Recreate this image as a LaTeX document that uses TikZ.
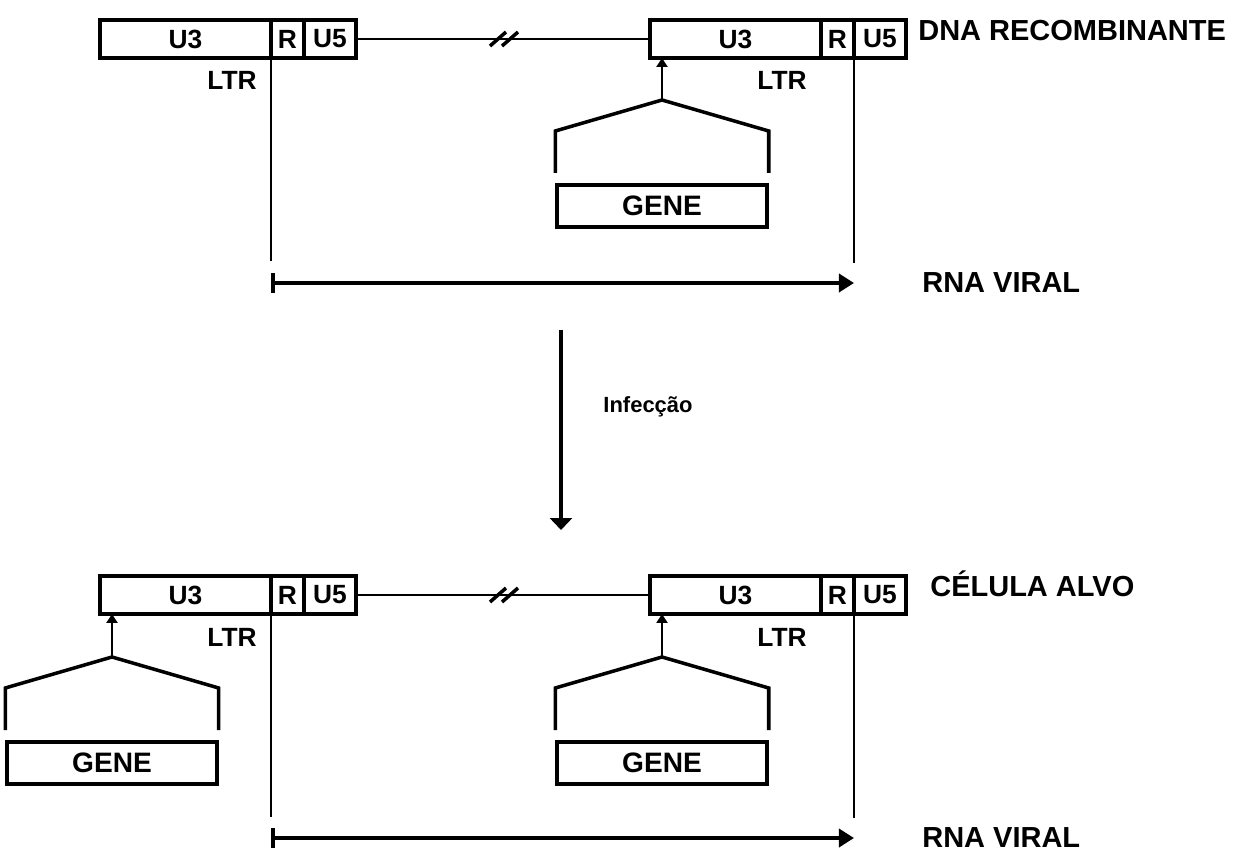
\documentclass[tikz,border=0pt]{standalone}
\usepackage{fontspec}
\setmainfont{Liberation Sans}
\usetikzlibrary{arrows.meta,positioning}

\begin{document}
\begin{tikzpicture}[x=0.02cm, y=-0.02cm]
  \tikzstyle{seg} = [rectangle, draw=black, line width=2pt, minimum height=0.76cm, inner sep=0pt, outer sep=0pt,
                     font=\bfseries\fontsize{15}{17}\selectfont]
  \tikzstyle{u3seg} = [seg, minimum width=3.42cm]
  \tikzstyle{rseg} = [seg, minimum width=0.66cm]
  \tikzstyle{u5seg} = [seg, minimum width=1.04cm]
  \tikzstyle{ltr} = [font=\bfseries\fontsize{15}{17}\selectfont, anchor=east, inner sep=0pt]
  \tikzstyle{genebox} = [rectangle, draw=black, line width=2pt, minimum width=4.2cm, minimum height=0.84cm,
                         inner sep=0pt, font=\bfseries\fontsize{16}{18}\selectfont]
  \tikzstyle{biglabel} = [font=\bfseries\fontsize{16.5}{19}\selectfont, anchor=west, inner sep=0pt]
  \tikzstyle{tent} = [line width=2pt, line join=miter]
  \tikzstyle{prom} = [-{Triangle[length=0.18cm, width=0.22cm]}, line width=1.6pt]
  \tikzstyle{rna} = [{Bar[width=0.4cm]}-{Triangle[length=0.3cm, width=0.36cm]}, line width=2pt]
  \tikzstyle{infarrow} = [-{Triangle[length=0.24cm, width=0.44cm]}, line width=2pt]
  \tikzstyle{guide} = [line width=1.2pt]

  \useasboundingbox (0,0) rectangle (1253,854);

  % DNA recombinante
  \node[u3seg] (u3a) at (185.5,39) {U3};
  \node[rseg, right=0pt of u3a] (ra) {R};
  \node[u5seg, right=0pt of ra] (u5a) {U5};
  \node[u3seg] (u3b) at (735.5,39) {U3};
  \node[rseg, right=0pt of u3b] (rb) {R};
  \node[u5seg, right=0pt of rb] (u5b) {U5};
  \node[ltr] (ltra) at (257,80) {LTR};
  \node[ltr] (ltrb) at (807,80) {LTR};
  \draw[guide] (u5a.east) -- (u3b.west);
  \foreach \sx in {498,510}
    \draw[line width=2pt] (\sx-8,46) -- (\sx+8,32);
  \node[biglabel] (dnarec) at (918,31) {DNA RECOMBINANTE};

  % RNA viral (alto)
  \coordinate (va) at (u3a.south east |- 0,261);
  \coordinate (vb) at (rb.south east |- 0,263);
  \draw[guide] (u3a.south east) -- (va);
  \draw[guide] (rb.south east) -- (vb);
  \coordinate (rnaa-s) at (va |- 0,283);
  \coordinate (rnaa-e) at (vb |- 0,283);
  \draw[rna] (rnaa-s) -- (rnaa-e);
  \node[biglabel] (rnaa) at (922,283) {RNA VIRAL};

  % infeccao
  \coordinate (inf-s) at (561,330);
  \coordinate (inf-e) at (561,530);
  \draw[infarrow] (inf-s) -- (inf-e);
  \node[font=\bfseries\fontsize{12.5}{14}\selectfont] (infec) at (648,407) {Infecção};

  % celula alvo
  \node[u3seg] (u3c) at (185.5,595) {U3};
  \node[rseg, right=0pt of u3c] (rc) {R};
  \node[u5seg, right=0pt of rc] (u5c) {U5};
  \node[u3seg] (u3d) at (735.5,595) {U3};
  \node[rseg, right=0pt of u3d] (rd) {R};
  \node[u5seg, right=0pt of rd] (u5d) {U5};
  \node[ltr] (ltrc) at (257,637) {LTR};
  \node[ltr] (ltrd) at (807,637) {LTR};
  \draw[guide] (u5c.east) -- (u3d.west);
  \foreach \sx in {498,510}
    \draw[line width=2pt] (\sx-8,602) -- (\sx+8,588);
  \node[biglabel] (alvo) at (930,584) {CÉLULA ALVO};

  % RNA viral (baixo)
  \coordinate (vc) at (u3c.south east |- 0,817);
  \coordinate (vd) at (rd.south east |- 0,818);
  \draw[guide] (u3c.south east) -- (vc);
  \draw[guide] (rd.south east) -- (vd);
  \coordinate (rnab-s) at (vc |- 0,838);
  \coordinate (rnab-e) at (vd |- 0,838);
  \draw[rna] (rnab-s) -- (rnab-e);
  \node[biglabel] (rnab) at (922,838) {RNA VIRAL};

  % genes com promotor
  \foreach \gx/\gy/\gn/\gt in {662/183/ga/u3b, 662/740/gb/u3d, 112/740/gc/u3c} {
    \node[genebox, anchor=north] (\gn) at (\gx,\gy) {GENE};
    \coordinate (\gn-apex) at (\gx,\gy-83);
    \draw[tent] ([yshift=0.2cm]\gn.north west) -- ([yshift=1.04cm]\gn.north west) -- (\gn-apex)
      -- ([yshift=1.04cm]\gn.north east) -- ([yshift=0.2cm]\gn.north east);
    \draw[prom] (\gn-apex) -- (\gn-apex |- \gt.south);
  }
\end{tikzpicture}
\end{document}
